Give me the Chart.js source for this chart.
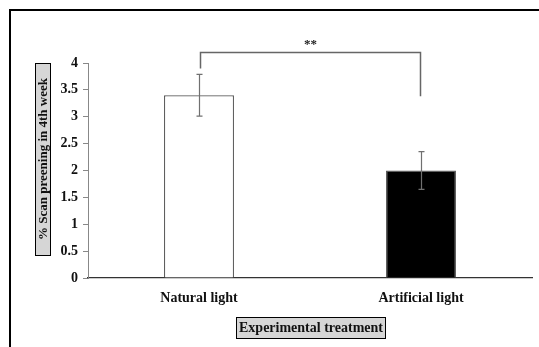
<!DOCTYPE html>
<html>
<head>
<meta charset="utf-8">
<script src="https://cdn.jsdelivr.net/npm/chart.js@4"></script>
<style>
  html, body { margin: 0; padding: 0; background: #fff; }
  #wrap { width: 539px; height: 347px; position: relative; }
</style>
</head>
<body>
<div id="wrap"><canvas id="myChart" width="539" height="347"></canvas></div>
<script>
// --- data ---
const categories = ['Natural light', 'Artificial light'];
const means = [3.4, 2.0];
const errors = [0.39, 0.35];
const barColors = ['#ffffff', '#000000'];
const yTitle = '% Scan preening in 4th week';
const xTitle = 'Experimental treatment';
// significance bracket (in data units)
const sigLabel = '**';
const sigTop = 4.21;
const sigLeftEnd = 3.9;
const sigRightEnd = 3.38;

const FONT = '"Liberation Serif", "Times New Roman", serif';

// error bars + bracket + boxed titles + frame
const extras = {
  id: 'extras',
  afterDatasetsDraw(chart) {
    const ctx = chart.ctx;
    const x = chart.scales.x, y = chart.scales.y;
    ctx.save();
    ctx.strokeStyle = '#707070';
    ctx.lineWidth = 1.2;
    means.forEach((m, i) => {
      const cx = Math.round(x.getPixelForValue(i)) + 0.5;
      const top = y.getPixelForValue(m + errors[i]);
      const bot = y.getPixelForValue(m - errors[i]);
      ctx.beginPath();
      ctx.moveTo(cx, top); ctx.lineTo(cx, bot);
      ctx.moveTo(cx - 3, top); ctx.lineTo(cx + 3, top);
      ctx.moveTo(cx - 3, bot); ctx.lineTo(cx + 3, bot);
      ctx.stroke();
    });

    // bracket
    const lx = Math.round(x.getPixelForValue(0)) + 1.5;
    const rx = Math.round(x.getPixelForValue(1)) - 0.5;
    const ty = Math.round(y.getPixelForValue(sigTop)) + 0.5;
    ctx.strokeStyle = '#666';
    ctx.lineWidth = 1.5;
    ctx.beginPath();
    ctx.moveTo(lx, y.getPixelForValue(sigLeftEnd));
    ctx.lineTo(lx, ty);
    ctx.lineTo(rx, ty);
    ctx.lineTo(rx, y.getPixelForValue(sigRightEnd));
    ctx.stroke();
    ctx.fillStyle = '#222';
    ctx.font = 'bold 13px ' + FONT;
    ctx.textAlign = 'center';
    ctx.textBaseline = 'middle';
    ctx.fillText(sigLabel, (lx + rx) / 2, ty - 8);
    ctx.restore();
  },
  afterDraw(chart) {
    const ctx = chart.ctx;
    const area = chart.chartArea;
    ctx.save();
    ctx.textAlign = 'center';
    ctx.textBaseline = 'middle';

    // y title box
    const yb = { x: 35, y: area.top, w: 15, h: 192 };
    ctx.fillStyle = '#d6d6d6';
    ctx.fillRect(yb.x, yb.y, yb.w, yb.h);
    ctx.strokeStyle = '#000';
    ctx.lineWidth = 1;
    ctx.strokeRect(yb.x + 0.5, yb.y + 0.5, yb.w, yb.h);
    ctx.save();
    ctx.font = 'bold 13px ' + FONT;
    ctx.translate(yb.x + yb.w / 2 + 1.5, yb.y + yb.h / 2);
    ctx.rotate(-Math.PI / 2);
    ctx.fillStyle = '#111';
    ctx.fillText(yTitle, 0, 0);
    ctx.restore();

    // x title box
    ctx.font = 'bold 14px ' + FONT;
    const xb = { x: 236, y: 317, w: 149, h: 21 };
    ctx.fillStyle = '#d6d6d6';
    ctx.fillRect(xb.x, xb.y, xb.w, xb.h);
    ctx.strokeRect(xb.x + 0.5, xb.y + 0.5, xb.w, xb.h);
    ctx.fillStyle = '#111';
    ctx.fillText(xTitle, xb.x + xb.w / 2 + 0.5, xb.y + xb.h / 2 + 1);

    // outer frame (left and top)
    ctx.fillStyle = '#000';
    ctx.fillRect(9, 9, 2, 338);
    ctx.fillRect(9, 9, 530, 2);
    ctx.restore();
  }
};

const ctx = document.getElementById('myChart').getContext('2d');
new Chart(ctx, {
  type: 'bar',
  data: {
    labels: categories,
    datasets: [{
      data: means,
      backgroundColor: barColors,
      borderColor: '#555',
      borderWidth: 1.2,
      categoryPercentage: 1,
      barPercentage: 0.315
    }]
  },
  options: {
    responsive: false,
    animation: false,
    devicePixelRatio: 1,
    layout: { padding: { left: 0, top: 63, right: 7, bottom: 0 } },
    plugins: { legend: { display: false }, tooltip: { enabled: false } },
    scales: {
      x: {
        afterFit: s => { s.height = 69; },
        grid: { display: false, drawTicks: false },
        border: { color: '#333', width: 1.2 },
        ticks: { color: '#111', padding: 12, font: { family: FONT, size: 14, weight: 'bold' } }
      },
      y: {
        min: 0, max: 4,
        afterFit: s => { s.width = 88; },
        ticks: {
          stepSize: 0.5, color: '#111', padding: 5,
          font: { family: FONT, size: 14, weight: 'bold' },
          callback: v => String(v)
        },
        grid: { drawOnChartArea: false, drawTicks: true, tickLength: 5, color: '#888' },
        border: { color: '#888', width: 1 }
      }
    }
  },
  plugins: [extras]
});
</script>
</body>
</html>
